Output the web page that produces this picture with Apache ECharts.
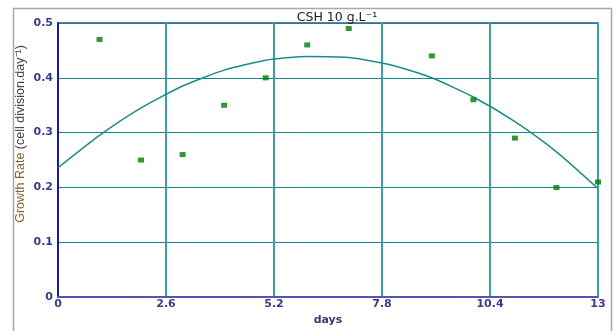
<!DOCTYPE html>
<html>
<head>
<meta charset="utf-8">
<script src="https://cdn.jsdelivr.net/npm/echarts@6/dist/echarts.min.js"></script>
<style>
html,body{margin:0;padding:0;background:#fff;}
#chart{width:613px;height:331px;}
</style>
</head>
<body>
<div id="chart"></div>
<script>
// Observed data points (days, growth rate)
const days = [1, 2, 3, 4, 5, 6, 7, 9, 10, 11, 12, 13];
const growthRate = [0.47, 0.25, 0.26, 0.35, 0.40, 0.46, 0.49, 0.44, 0.36, 0.29, 0.20, 0.21];
// Trend curve
const fitDays = [0, 1, 2, 3, 4, 5, 6, 7, 8, 9, 10, 11, 12, 13];
const fitRate = [0.236, 0.295, 0.345, 0.385, 0.414, 0.432, 0.439, 0.437, 0.424, 0.400, 0.365, 0.320, 0.265, 0.198];
// Tick labels
const xTicks = ['0', '2.6', '5.2', '7.8', '10.4', '13'];
const yTicks = ['0', '0.1', '0.2', '0.3', '0.4', '0.5'];
const titleText = 'CSH 10 g.L\u207B\u00B9';
const yName = ['Growth Rate', '(cell division.day\u207B\u00B9)'];
const xName = 'days';

const chart = echarts.init(document.getElementById('chart'), null, {renderer: 'canvas'});
const tickFont = {color: '#3a3a8a', fontWeight: 'bold', fontSize: 11, fontFamily: 'DejaVu Sans'};

chart.setOption({
  animation: false,
  backgroundColor: '#ffffff',
  title: {
    text: titleText,
    left: 332, top: 6, textAlign: 'center',
    textStyle: {fontSize: 12.5, fontWeight: 'normal', color: '#222', fontFamily: 'DejaVu Sans'}
  },
  grid: {left: 58, right: 15, top: 23, bottom: 21, show: true, borderColor: '#4444a8', borderWidth: 1.5},
  xAxis: {
    type: 'value', min: 0, max: 13, interval: 2.6,
    name: xName, nameLocation: 'middle', nameGap: 8,
    nameTextStyle: {color: '#3a3a7a', fontWeight: 'bold', fontSize: 11, fontFamily: 'DejaVu Sans', verticalAlign: 'top', padding: [4,0,0,0]},
    axisLine: {lineStyle: {color: '#5555aa', width: 2}},
    axisTick: {show: false},
    axisLabel: Object.assign({margin: 2, formatter: (v) => xTicks[Math.round(v / 2.6)]}, tickFont),
    splitLine: {show: true, lineStyle: {color: '#3fa0a0', width: 2}}
  },
  yAxis: {
    type: 'value', min: 0, max: 0.5, interval: 0.1,
    axisLine: {show: true, lineStyle: {color: '#1a1a9a', width: 2}},
    axisTick: {show: false},
    axisLabel: Object.assign({margin: 5, formatter: (v) => yTicks[Math.round(v * 10)]}, tickFont),
    splitLine: {show: true, lineStyle: {color: '#108888', width: 1.2}}
  },
  graphic: [
    {type: 'rect', shape: {x: 13.5, y: 8.5, width: 598, height: 340}, style: {fill: 'none', stroke: '#a8a8a8', lineWidth: 1.5}, silent: true, z: -10},
    {type: 'text', x: 21, y: 134, rotation: Math.PI / 2,
     style: {text: '{a|' + yName[0] + '} {b|' + yName[1] + '}', textAlign: 'center', textVerticalAlign: 'middle',
       fontSize: 12.5, fontFamily: 'Liberation Sans',
       rich: {a: {fill: '#8a6030', fontSize: 12.5, fontFamily: 'Liberation Sans'}, b: {fill: '#4a4040', fontSize: 12.5, fontFamily: 'Liberation Sans'}}}}
  ],
  series: [
    {type: 'line', data: fitDays.map((d, i) => [d, fitRate[i]]), smooth: 0.2, showSymbol: false,
     lineStyle: {color: '#1a8c8c', width: 1.5}, z: 3},
    {type: 'scatter', data: days.map((d, i) => [d, growthRate[i]]), symbol: 'rect', symbolSize: [6, 5],
     itemStyle: {color: '#007a00'}, z: 5}
  ]
});
</script>
</body>
</html>
